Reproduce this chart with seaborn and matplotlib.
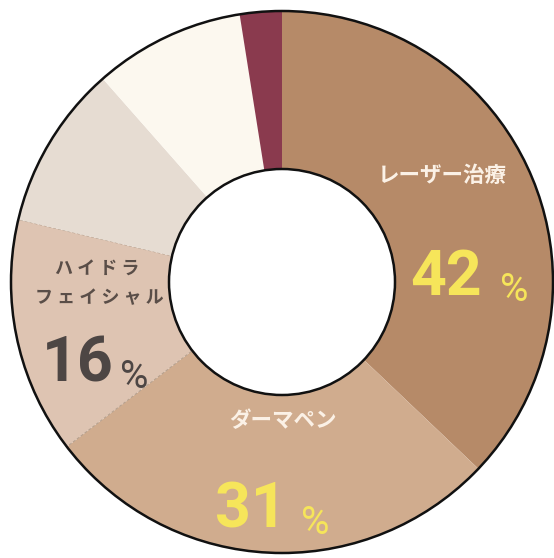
import matplotlib
matplotlib.use("Agg")
import matplotlib.pyplot as plt
import seaborn as sns

# wedge sizes as drawn in the picture (printed labels differ)
shares = [37.1, 27.5, 14.1, 9.8, 9.0, 2.5]
names = ["レーザー治療", "ダーマペン", "ハイドラ\nフェイシャル"]
pct_text = ["42", "31", "16"]
colors = ["#B68A68", "#D0AC8E", "#DEC4B2", "#E6DCD2", "#FCF8EF", "#8A3A4E"]

sns.set_theme(style="white")
plt.rcParams['font.family'] = ['Noto Sans CJK JP', 'DejaVu Sans']
num_font = ['Roboto', 'DejaVu Sans']

palette = sns.color_palette(colors)

fig = plt.figure(figsize=(5.54, 5.58), dpi=100)
ax = fig.add_axes([0, 0, 1, 1])

R = 271.0
hole = 113.0 / R
wedges, _ = ax.pie(shares, colors=palette, startangle=90, counterclock=False,
                   radius=1, wedgeprops=dict(width=1 - hole, linewidth=0))

# thin dashed border on the hydra facial slice
wedges[2].set_edgecolor('#B39E8C')
wedges[2].set_linewidth(0.7)
wedges[2].set_linestyle((0, (3, 2)))

ax.add_patch(plt.Circle((0, 0), 1, fill=False, lw=1.8, color='#111111'))
ax.add_patch(plt.Circle((0, 0), hole, fill=False, lw=1.8, color='#111111'))

ax.set_xlim(-282 / R, 272 / R)
ax.set_ylim(-276 / R, 282 / R)
ax.axis('off')

W, H = 554.0, 558.0


def put(x, y, s, **kw):
    fig.text(x / W, 1 - y / H, s, **kw)


light = '#FBF1E6'
yellow = '#F6E55A'
dark = '#5A4E48'

# labels
put(442, 176, names[0], ha='center', va='center', fontsize=15.5,
    fontweight='bold', color=light)
put(283, 421, names[1], ha='center', va='center', fontsize=15.5,
    fontweight='bold', color=light)
put(97, 268, "ハ イ ド ラ", ha='center', va='center', fontsize=13,
    fontweight='bold', color=dark)
put(99, 298, "フ ェ イ シ ャ ル", ha='center', va='center', fontsize=13,
    fontweight='bold', color=dark)

# percentages
put(446, 295, pct_text[0], ha='center', va='baseline', fontsize=45,
    fontweight='bold', color=yellow, family=num_font)
put(514, 301, "%", ha='center', va='baseline', fontsize=28,
    color=yellow, family=num_font)
put(251, 528, pct_text[1], ha='center', va='baseline', fontsize=45,
    fontweight='bold', color=yellow, family=num_font)
put(315, 534, "%", ha='center', va='baseline', fontsize=28,
    color=yellow, family=num_font)
put(78, 382, pct_text[2], ha='center', va='baseline', fontsize=45,
    fontweight='bold', color='#4D4644', family=num_font)
put(134, 388, "%", ha='center', va='baseline', fontsize=28,
    color='#4D4644', family=num_font)

fig.savefig('out.png', dpi=100)
